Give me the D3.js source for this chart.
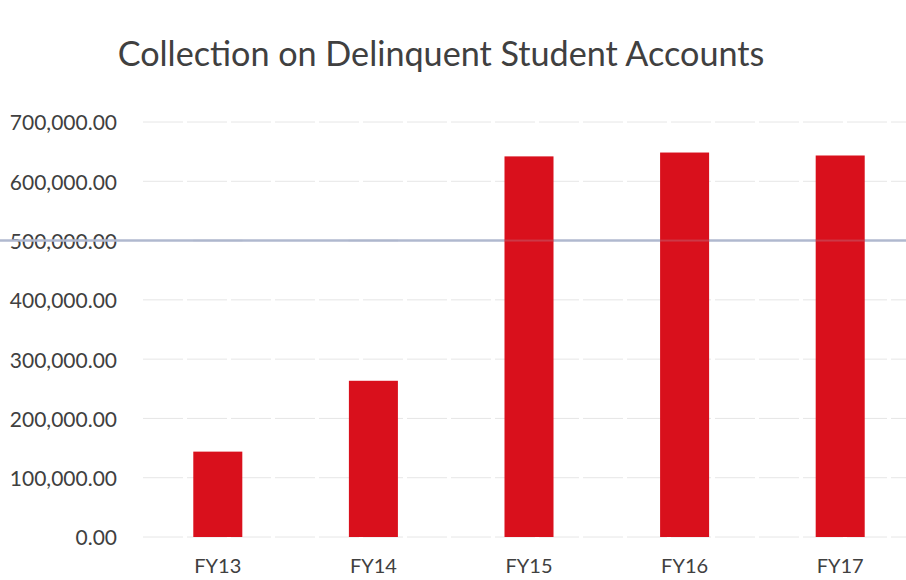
<!DOCTYPE html>
<html>
<head>
<meta charset="utf-8">
<script src="https://cdn.jsdelivr.net/npm/d3@7"></script>
<style>
  body { margin: 0; background: #fff; }
  text { font-family: Lato, "Open Sans", sans-serif; fill: #404040; }
</style>
</head>
<body>
<script>
// data
var years = ["FY13", "FY14", "FY15", "FY16", "FY17"];
var collected = [144000, 263500, 642000, 648500, 643500];
var yTicks = [0, 100000, 200000, 300000, 400000, 500000, 600000, 700000];
var markLine = 500000;

var W = 906, H = 580;
var plotLeft = 140, plotRight = 918, plotTop = 122, plotBottom = 537;

var svg = d3.select("body").append("svg")
  .attr("width", W)
  .attr("height", H);

var x = d3.scaleBand()
  .domain(years)
  .range([plotLeft, plotRight])
  .paddingInner(0.685)
  .paddingOuter(0.3425);

var y = d3.scaleLinear()
  .domain([0, 700000])
  .range([plotBottom, plotTop]);

var fmt = d3.format(",.2f");

// gridlines (faint, a bit broken like the scan)
svg.append("g")
  .selectAll("line")
  .data(yTicks)
  .enter()
  .append("line")
  .attr("x1", plotLeft + 3)
  .attr("x2", plotRight)
  .attr("y1", function(d) { return y(d); })
  .attr("y2", function(d) { return y(d); })
  .attr("stroke", "#e6e6e6")
  .attr("stroke-dasharray", "40,4")
  .attr("stroke-width", 1);

// y labels
var yAxis = d3.axisLeft(y).tickValues(yTicks).tickFormat(fmt).tickSize(0).tickPadding(23);
var gy = svg.append("g")
  .attr("transform", "translate(" + plotLeft + ",0)")
  .call(yAxis);
gy.select(".domain").remove();
gy.selectAll("text")
  .style("font-size", "21px")
  .attr("fill", "#3a3a3a")
  .attr("dy", "0.38em");

// blue reference line across the page
svg.append("line")
  .attr("x1", 0)
  .attr("x2", W)
  .attr("y1", y(markLine))
  .attr("y2", y(markLine))
  .attr("stroke", "#b0b9cf")
  .attr("stroke-width", 2.5);

// bars
svg.selectAll(".bar")
  .data(collected)
  .enter()
  .append("rect")
  .attr("class", "bar")
  .attr("x", function(d, i) { return x(years[i]); })
  .attr("width", x.bandwidth())
  .attr("y", function(d) { return y(d); })
  .attr("height", function(d) { return y(0) - y(d); })
  .attr("fill", "#d9101c");

// faint trace of the line over the bars (scan look)
svg.selectAll(".trace")
  .data(collected)
  .enter()
  .append("rect")
  .attr("class", "trace")
  .attr("x", function(d, i) { return x(years[i]); })
  .attr("width", x.bandwidth())
  .attr("y", y(markLine) - 1)
  .attr("height", 2)
  .attr("fill", "#a9b3c9")
  .attr("opacity", 0.25);

// x labels
var xAxis = d3.axisBottom(x).tickSize(0).tickPadding(22);
var gx = svg.append("g")
  .attr("transform", "translate(0," + plotBottom + ")")
  .call(xAxis);
gx.select(".domain").remove();
gx.selectAll("text")
  .style("font-size", "20px")
  .attr("fill", "#3a3a3a");

// title
var title = svg.append("text")
  .attr("x", 441)
  .attr("y", 66)
  .attr("text-anchor", "middle")
  .style("font-size", "34px")
  .text("Collection on Delinquent Student Accounts");
var tw = title.node().getComputedTextLength();
title.style("font-size", (34 * 647 / tw) + "px");
</script>
</body>
</html>
